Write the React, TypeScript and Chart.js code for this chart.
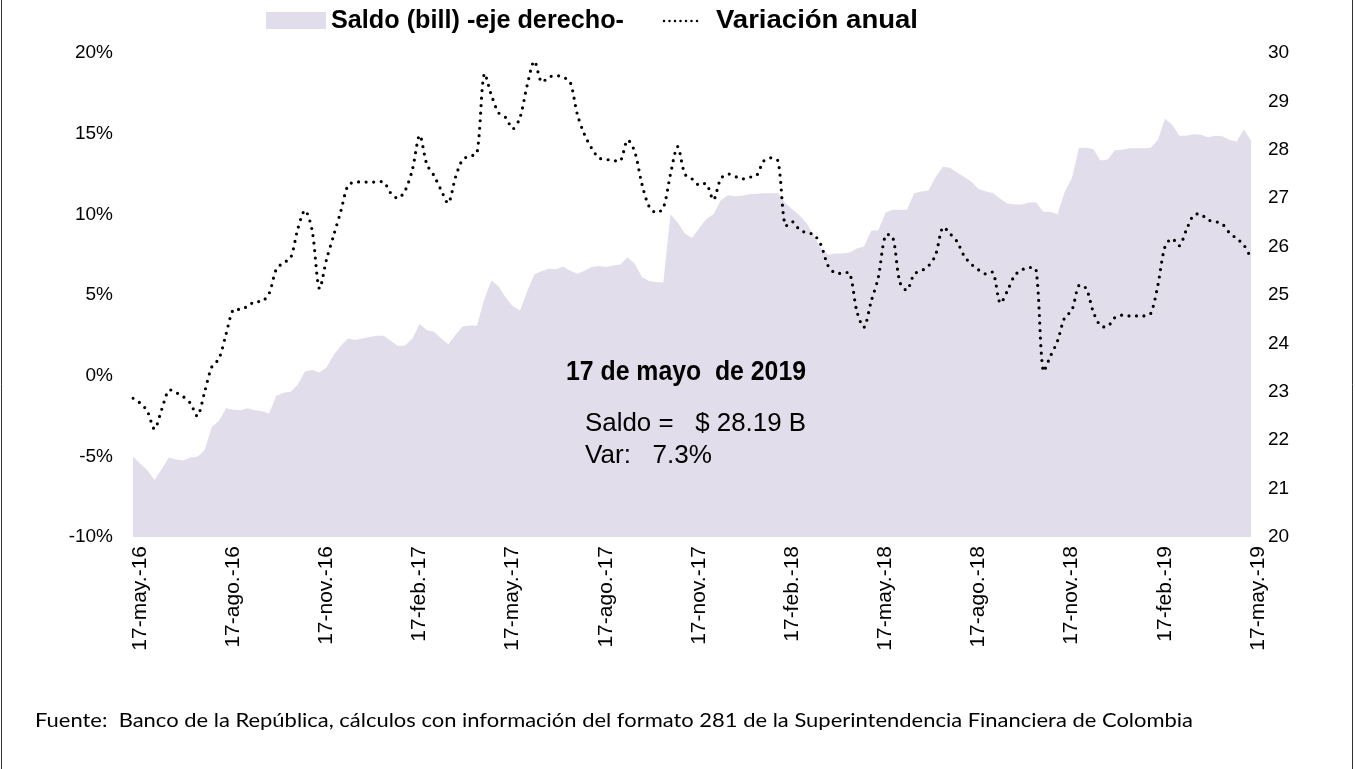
import React, { useEffect, useRef } from "react";
import { Chart, registerables } from "chart.js";

Chart.register(...registerables);

// Quarterly tick labels (every 13 weeks)
const tickLabels = [
  "17-may.-16", "17-ago.-16", "17-nov.-16", "17-feb.-17", "17-may.-17", "17-ago.-17",
  "17-nov.-17", "17-feb.-18", "17-may.-18", "17-ago.-18", "17-nov.-18", "17-feb.-19", "17-may.-19",
];
const WEEKS_PER_TICK = 13;

// Saldo (billones) - right axis, weekly
const saldo = [
  21.66, 21.52, 21.38, 21.18, 21.4, 21.64, 21.6, 21.58, 21.64, 21.66,
  21.8, 22.28, 22.4, 22.66, 22.63, 22.62, 22.66, 22.62, 22.6, 22.55,
  22.92, 22.98, 23.0, 23.15, 23.42, 23.45, 23.4, 23.5, 23.76, 23.95,
  24.1, 24.07, 24.1, 24.13, 24.16, 24.16, 24.05, 23.94, 23.96, 24.1,
  24.4, 24.27, 24.24, 24.1, 23.98, 24.18, 24.35, 24.37, 24.37, 24.9,
  25.3, 25.18, 24.95, 24.77, 24.68, 25.07, 25.43, 25.49, 25.54, 25.53,
  25.59, 25.5, 25.44, 25.5, 25.58, 25.6, 25.58, 25.61, 25.63, 25.78,
  25.65, 25.37, 25.29, 25.27, 25.26, 26.67, 26.5, 26.27, 26.18, 26.38,
  26.57, 26.67, 26.95, 27.06, 27.04, 27.05, 27.08, 27.09, 27.1, 27.1,
  27.1, 26.9, 26.77, 26.65, 26.48, 26.22, 25.96, 25.83, 25.86, 25.86,
  25.88, 25.96, 26.0, 26.33, 26.34, 26.7, 26.76, 26.76, 26.76, 27.1,
  27.14, 27.16, 27.44, 27.65, 27.63, 27.53, 27.44, 27.34, 27.19, 27.14,
  27.11, 26.99, 26.89, 26.87, 26.87, 26.91, 26.91, 26.72, 26.72, 26.67,
  27.13, 27.41, 28.04, 28.04, 28.01, 27.78, 27.8, 27.99, 28.0, 28.03,
  28.03, 28.03, 28.04, 28.2, 28.64, 28.52, 28.29, 28.29, 28.32, 28.31,
  28.26, 28.29, 28.28, 28.2, 28.17, 28.42, 28.19,
];

// Variación anual (%) - left axis, weekly
const variacion = [
  -1.4, -1.7, -2.2, -3.3, -2.1, -0.9, -1.05, -1.3, -1.7, -2.5,
  -1.0, 0.55, 1.05, 2.6, 4.1, 4.1, 4.3, 4.6, 4.6, 5.1,
  6.6, 7.0, 7.3, 9.1, 10.25, 9.0, 5.4, 7.2, 8.7, 10.2,
  11.8, 12.0, 12.0, 12.0, 12.0, 12.0, 11.3, 11.0, 11.5, 12.8,
  14.9, 13.1, 12.4, 11.5, 10.7, 12.3, 13.4, 13.6, 13.8, 18.7,
  17.4, 16.3, 16.0, 15.3, 16.0, 18.0, 19.5, 18.2, 18.5, 18.6,
  18.5, 18.2, 16.2, 14.95, 14.1, 13.5, 13.4, 13.35, 13.3, 14.6,
  13.9, 11.9, 10.5, 10.1, 10.4, 12.5, 14.2, 12.5, 12.2, 11.8,
  11.9, 10.9, 12.2, 12.5, 12.35, 12.2, 12.3, 12.4, 13.3, 13.5,
  13.3, 9.3, 9.55, 9.05, 8.85, 8.75, 8.1, 6.8, 6.35, 6.35,
  6.35, 4.0, 3.0, 4.6, 6.1, 8.7, 8.6, 5.8, 5.3, 6.3,
  6.5, 6.8, 7.5, 9.2, 8.8, 8.3, 7.4, 6.9, 6.55, 6.3,
  6.4, 4.5, 5.25, 6.2, 6.55, 6.7, 6.6, 0.3, 1.2, 2.15,
  3.6, 4.05, 5.6, 5.4, 3.95, 3.1, 3.05, 3.6, 3.75, 3.7,
  3.7, 3.7, 3.85, 5.6, 8.0, 8.5, 8.05, 9.05, 9.95, 10.0,
  9.65, 9.55, 9.4, 8.85, 8.5, 8.1, 7.3,
];

const legendSaldo = "Saldo (bill) -eje derecho-";
const legendVar = "Variación anual";
const noteTitle = "17 de mayo  de 2019";
const noteSaldo = "Saldo =   $ 28.19 B";
const noteVar = "Var:   7.3%";
const footer =
  "Fuente:  Banco de la República, cálculos con información del formato 281 de la Superintendencia Financiera de Colombia";

const AREA_COLOR = "#E1DDEA";
const FONT = "'Liberation Sans', Arial, sans-serif";

const categories = saldo.map((_, i) =>
  i % WEEKS_PER_TICK === 0 ? tickLabels[i / WEEKS_PER_TICK] : ""
);

function drawFit(ctx: CanvasRenderingContext2D, text: string, x: number, y: number, font: string, width: number) {
  ctx.save();
  ctx.font = font;
  const w = ctx.measureText(text).width;
  ctx.translate(x, y);
  ctx.scale(width / w, 1);
  ctx.textBaseline = "middle";
  ctx.textAlign = "left";
  ctx.fillStyle = "#000";
  ctx.fillText(text, 0, 0);
  ctx.restore();
}

const decorPlugin = {
  id: "decor",
  afterDraw(chart: any) {
    const ctx: CanvasRenderingContext2D = chart.ctx;
    // frame lines
    ctx.save();
    ctx.strokeStyle = "#333";
    ctx.lineWidth = 1;
    ctx.beginPath();
    ctx.moveTo(1.5, 0);
    ctx.lineTo(1.5, 769);
    ctx.moveTo(1352.5, 0);
    ctx.lineTo(1352.5, 769);
    ctx.stroke();
    ctx.restore();

    // legend
    ctx.save();
    ctx.fillStyle = AREA_COLOR;
    ctx.fillRect(266, 12, 60, 17);
    ctx.restore();
    drawFit(ctx, legendSaldo, 331, 21, `bold 25px ${FONT}`, 293);
    ctx.save();
    ctx.strokeStyle = "#000";
    ctx.lineWidth = 2.5;
    ctx.lineCap = "round";
    ctx.setLineDash([0, 5.5]);
    ctx.beginPath();
    ctx.moveTo(664, 21);
    ctx.lineTo(700, 21);
    ctx.stroke();
    ctx.restore();
    drawFit(ctx, legendVar, 716, 21, `bold 25px ${FONT}`, 202);

    // annotation
    drawFit(ctx, noteTitle, 566, 373, `bold 27px ${FONT}`, 240);
    drawFit(ctx, noteSaldo, 585, 424, `26px ${FONT}`, 221);
    drawFit(ctx, noteVar, 585, 456, `26px ${FONT}`, 127);

    // footer
    drawFit(ctx, footer, 35, 721, `19px Lato, 'Open Sans', sans-serif`, 1158);
  },
};

export default function App() {
  const canvasRef = useRef<HTMLCanvasElement>(null);

  useEffect(() => {
    document.body.style.margin = "0";
    const canvas = canvasRef.current;
    if (!canvas) return;
    const chart = new Chart(canvas, {
      type: "line",
      data: {
        labels: categories,
        datasets: [
          {
            label: legendVar,
            data: variacion,
            yAxisID: "y",
            borderColor: "#000",
            borderWidth: 3.2,
            borderDash: [0, 7.5],
            borderCapStyle: "round",
            pointRadius: 0,
            tension: 0.3,
            fill: false,
            order: 1,
          },
          {
            label: legendSaldo,
            data: saldo,
            yAxisID: "y1",
            backgroundColor: AREA_COLOR,
            borderWidth: 0,
            borderColor: AREA_COLOR,
            pointRadius: 0,
            tension: 0,
            fill: "start",
            order: 2,
          },
        ],
      },
      options: {
        responsive: false,
        animation: false,
        events: [],
        layout: { padding: { top: 53, left: 0, right: 0, bottom: 0 } },
        plugins: {
          legend: { display: false },
          tooltip: { enabled: false },
          title: { display: false },
        },
        scales: {
          x: {
            type: "category",
            offset: false,
            grid: { display: false, drawTicks: false },
            border: { display: false },
            ticks: {
              autoSkip: false,
              maxRotation: 90,
              minRotation: 90,
              padding: 9,
              labelOffset: 7,
              color: "#000",
              font: { family: FONT, size: 21 },
              callback: (_v: any, i: number) => categories[i],
            },
            afterFit: (s: any) => {
              s.height = 232;
            },
          },
          y: {
            position: "left",
            min: -10,
            max: 20,
            grid: { display: false, drawTicks: false },
            border: { display: false },
            ticks: {
              stepSize: 5,
              padding: 20,
              color: "#000",
              font: { family: FONT, size: 19 },
              callback: (v: any) => `${v}%`,
            },
            afterFit: (s: any) => {
              s.width = 133;
            },
          },
          y1: {
            position: "right",
            min: 20,
            max: 30,
            grid: { display: false, drawTicks: false },
            border: { display: false },
            ticks: {
              stepSize: 1,
              padding: 17,
              color: "#000",
              font: { family: FONT, size: 19 },
            },
            afterFit: (s: any) => {
              s.width = 104;
            },
          },
        },
      },
      plugins: [decorPlugin],
    });
    return () => chart.destroy();
  }, []);

  return (
    <div style={{ width: 1355, height: 769, background: "#fff" }}>
      <canvas ref={canvasRef} width={1355} height={769} style={{ display: "block" }} />
    </div>
  );
}
